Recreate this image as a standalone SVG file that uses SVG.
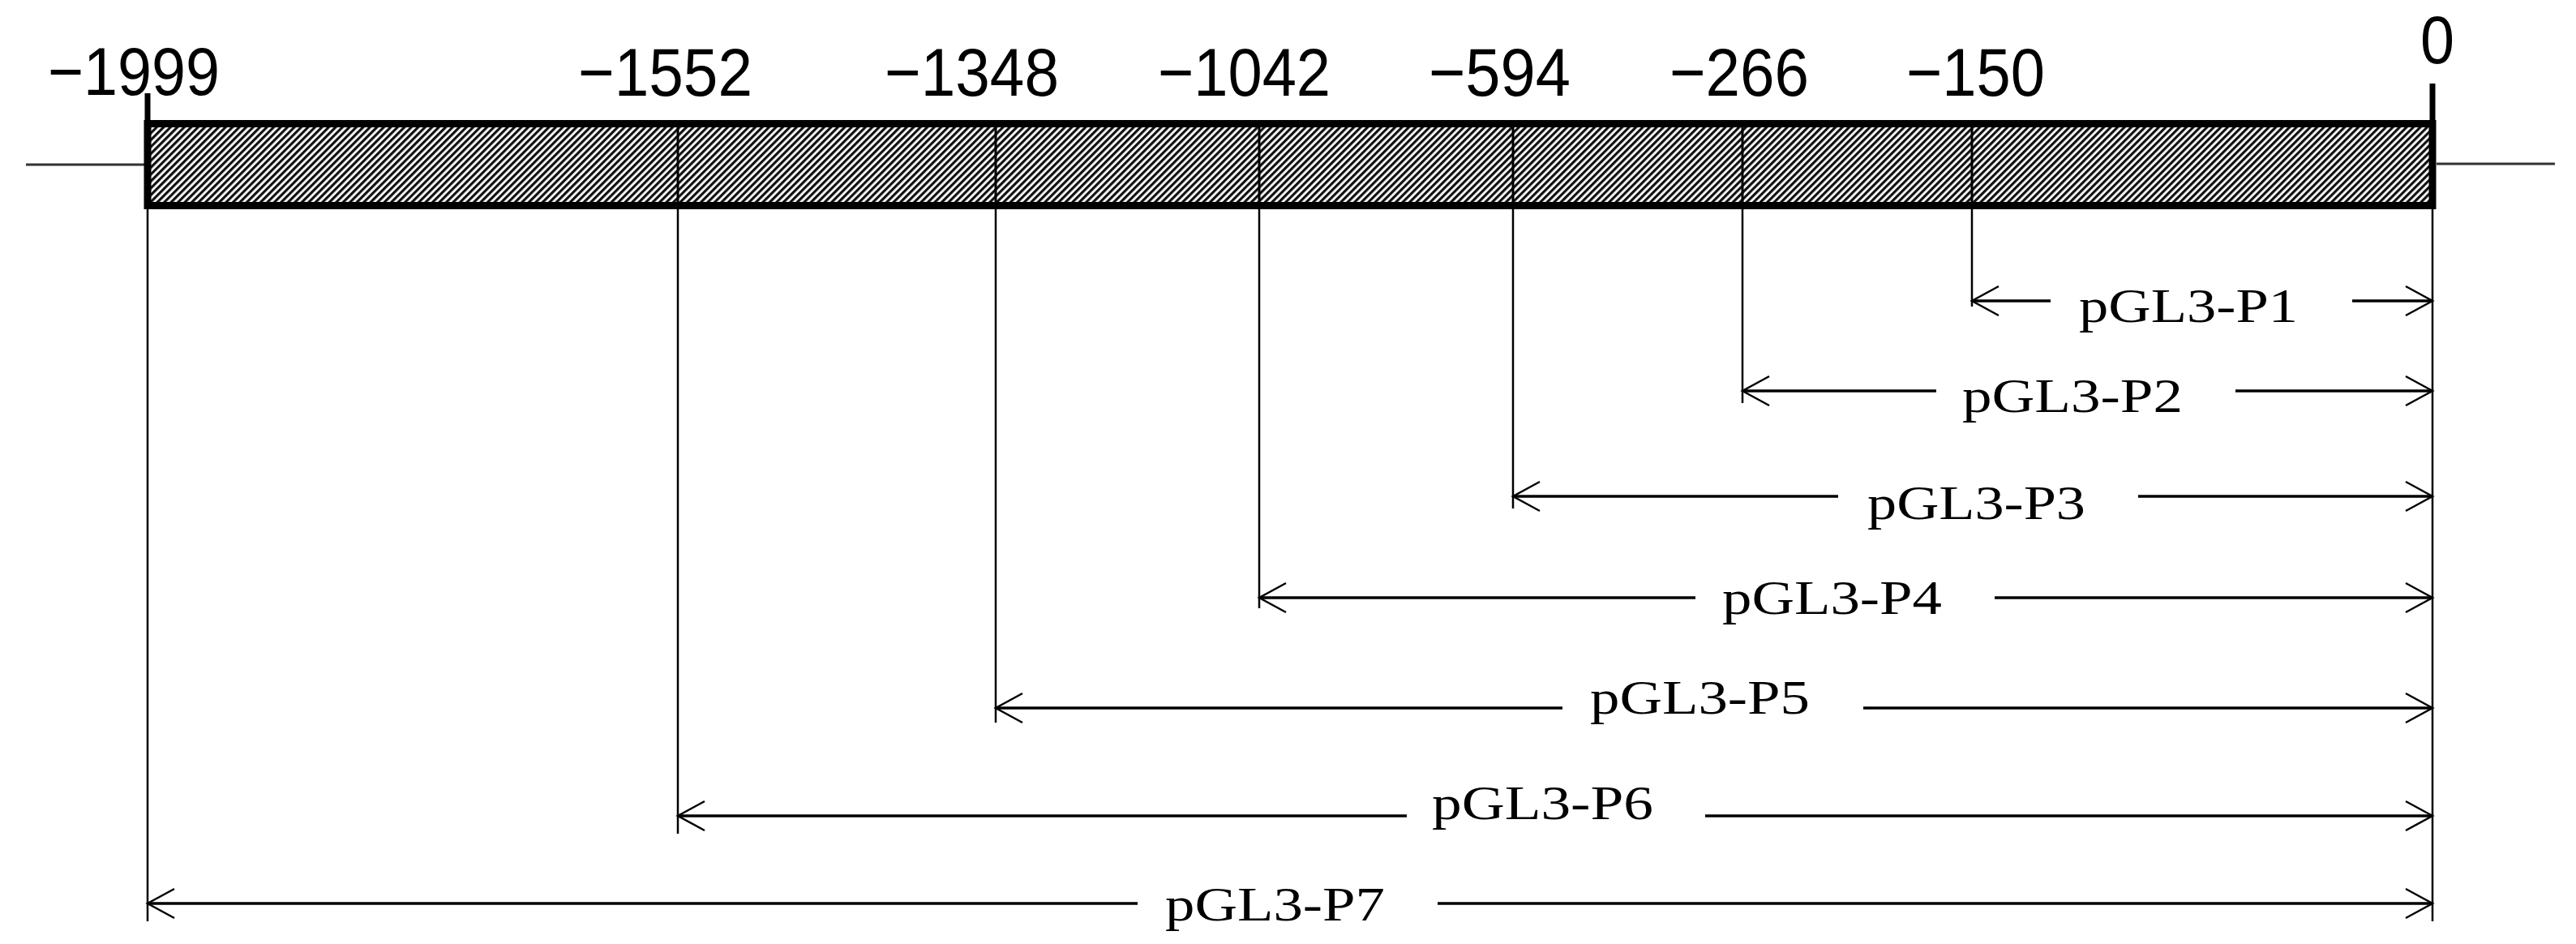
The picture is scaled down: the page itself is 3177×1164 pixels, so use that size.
<svg xmlns="http://www.w3.org/2000/svg" width="3177" height="1164" viewBox="0 0 3177 1164">
  <defs>
    <pattern id="hatch" patternUnits="userSpaceOnUse" width="6" height="6" patternTransform="rotate(45)">
      <rect x="0" y="0" width="6" height="6" fill="#ffffff"/>
      <rect x="0" y="0" width="3.2" height="6" fill="#111111"/>
    </pattern>
    <marker id="arr" viewBox="-36 -21 40 42" refX="0" refY="0" markerWidth="40" markerHeight="42" markerUnits="userSpaceOnUse" orient="auto-start-reverse">
      <path d="M -33 -18 L 0 0 L -33 18" fill="none" stroke="#000" stroke-width="2.5"/>
    </marker>
    <style>
      .num { font-family: "Liberation Sans", Arial, sans-serif; font-size: 84px; fill: #000; }
      .lbl { font-family: "Liberation Serif", "Times New Roman", serif; font-size: 60px; fill: #000; }
      .shaft { stroke: #000; stroke-width: 3.5; fill: none; }
      .ext { stroke: #000; stroke-width: 2.5; fill: none; }
      .div { stroke: #000; stroke-width: 3; fill: none; }
      .axis { stroke: #333; stroke-width: 3; fill: none; }
      .tick { stroke: #000; stroke-width: 7; fill: none; }
    </style>
  </defs>
  <rect x="0" y="0" width="3177" height="1164" fill="#ffffff"/>

  <g id="promoter-bar">
    <line class="axis" x1="32" y1="203" x2="178" y2="203"/>
    <line class="axis" x1="3005" y1="202" x2="3151" y2="202"/>
    <rect x="182" y="152.5" width="2818" height="101" fill="url(#hatch)" stroke="#000" stroke-width="9"/>
    <line class="tick" x1="182" y1="115" x2="182" y2="150"/>
    <line class="tick" x1="3000" y1="103" x2="3000" y2="150"/>
    <line class="div" x1="836" y1="157" x2="836" y2="250"/>
    <line class="div" x1="1228" y1="157" x2="1228" y2="250"/>
    <line class="div" x1="1553" y1="157" x2="1553" y2="250"/>
    <line class="div" x1="1866" y1="157" x2="1866" y2="250"/>
    <line class="div" x1="2149" y1="157" x2="2149" y2="250"/>
    <line class="div" x1="2432" y1="157" x2="2432" y2="250"/>
  </g>

  <g id="pos-1999"><text class="num" x="59" y="117" textLength="212" lengthAdjust="spacingAndGlyphs">−1999</text></g>
  <g id="pos-1552"><text class="num" x="713" y="118" textLength="215" lengthAdjust="spacingAndGlyphs">−1552</text></g>
  <g id="pos-1348"><text class="num" x="1091" y="118" textLength="215" lengthAdjust="spacingAndGlyphs">−1348</text></g>
  <g id="pos-1042"><text class="num" x="1428" y="118" textLength="213" lengthAdjust="spacingAndGlyphs">−1042</text></g>
  <g id="pos-594"><text class="num" x="1762" y="118" textLength="175" lengthAdjust="spacingAndGlyphs">−594</text></g>
  <g id="pos-266"><text class="num" x="2059" y="118" textLength="172" lengthAdjust="spacingAndGlyphs">−266</text></g>
  <g id="pos-150"><text class="num" x="2351" y="118" textLength="171" lengthAdjust="spacingAndGlyphs">−150</text></g>
  <g id="pos-0"><text class="num" x="3006" y="78" text-anchor="middle" textLength="42" lengthAdjust="spacingAndGlyphs">0</text></g>

  <g id="connectors">
    <!-- extension lines -->
    <line class="ext" x1="182" y1="258" x2="182" y2="1136"/>
    <line class="ext" x1="3000" y1="258" x2="3000" y2="1136"/>
    <line class="ext" x1="836" y1="258" x2="836" y2="1028"/>
    <line class="ext" x1="1228" y1="258" x2="1228" y2="891"/>
    <line class="ext" x1="1553" y1="258" x2="1553" y2="750"/>
    <line class="ext" x1="1866" y1="258" x2="1866" y2="627"/>
    <line class="ext" x1="2149" y1="258" x2="2149" y2="497"/>
    <line class="ext" x1="2432" y1="258" x2="2432" y2="378"/>
    <!-- P1 -->
    <line class="shaft" x1="2432" y1="371" x2="2529" y2="371" marker-start="url(#arr)"/>
    <line class="shaft" x1="2901" y1="371" x2="3000" y2="371" marker-end="url(#arr)"/>
    <!-- P2 -->
    <line class="shaft" x1="2149" y1="482" x2="2388" y2="482" marker-start="url(#arr)"/>
    <line class="shaft" x1="2757" y1="482" x2="3000" y2="482" marker-end="url(#arr)"/>
    <!-- P3 -->
    <line class="shaft" x1="1866" y1="612" x2="2267" y2="612" marker-start="url(#arr)"/>
    <line class="shaft" x1="2637" y1="612" x2="3000" y2="612" marker-end="url(#arr)"/>
    <!-- P4 -->
    <line class="shaft" x1="1553" y1="737" x2="2091" y2="737" marker-start="url(#arr)"/>
    <line class="shaft" x1="2460" y1="737" x2="3000" y2="737" marker-end="url(#arr)"/>
    <!-- P5 -->
    <line class="shaft" x1="1228" y1="873" x2="1927" y2="873" marker-start="url(#arr)"/>
    <line class="shaft" x1="2298" y1="873" x2="3000" y2="873" marker-end="url(#arr)"/>
    <!-- P6 -->
    <line class="shaft" x1="836" y1="1006" x2="1735" y2="1006" marker-start="url(#arr)"/>
    <line class="shaft" x1="2103" y1="1006" x2="3000" y2="1006" marker-end="url(#arr)"/>
    <!-- P7 -->
    <line class="shaft" x1="182" y1="1114" x2="1403" y2="1114" marker-start="url(#arr)"/>
    <line class="shaft" x1="1773" y1="1114" x2="3000" y2="1114" marker-end="url(#arr)"/>
  </g>

  <g id="frag-P1"><text class="lbl" x="2564" y="397" textLength="270" lengthAdjust="spacingAndGlyphs">pGL3-P1</text></g>
  <g id="frag-P2"><text class="lbl" x="2420" y="508" textLength="272" lengthAdjust="spacingAndGlyphs">pGL3-P2</text></g>
  <g id="frag-P3"><text class="lbl" x="2303" y="640" textLength="269" lengthAdjust="spacingAndGlyphs">pGL3-P3</text></g>
  <g id="frag-P4"><text class="lbl" x="2124" y="757" textLength="271" lengthAdjust="spacingAndGlyphs">pGL3-P4</text></g>
  <g id="frag-P5"><text class="lbl" x="1961" y="880" textLength="271" lengthAdjust="spacingAndGlyphs">pGL3-P5</text></g>
  <g id="frag-P6"><text class="lbl" x="1766" y="1010" textLength="273" lengthAdjust="spacingAndGlyphs">pGL3-P6</text></g>
  <g id="frag-P7"><text class="lbl" x="1437" y="1135" textLength="271" lengthAdjust="spacingAndGlyphs">pGL3-P7</text></g>
</svg>
